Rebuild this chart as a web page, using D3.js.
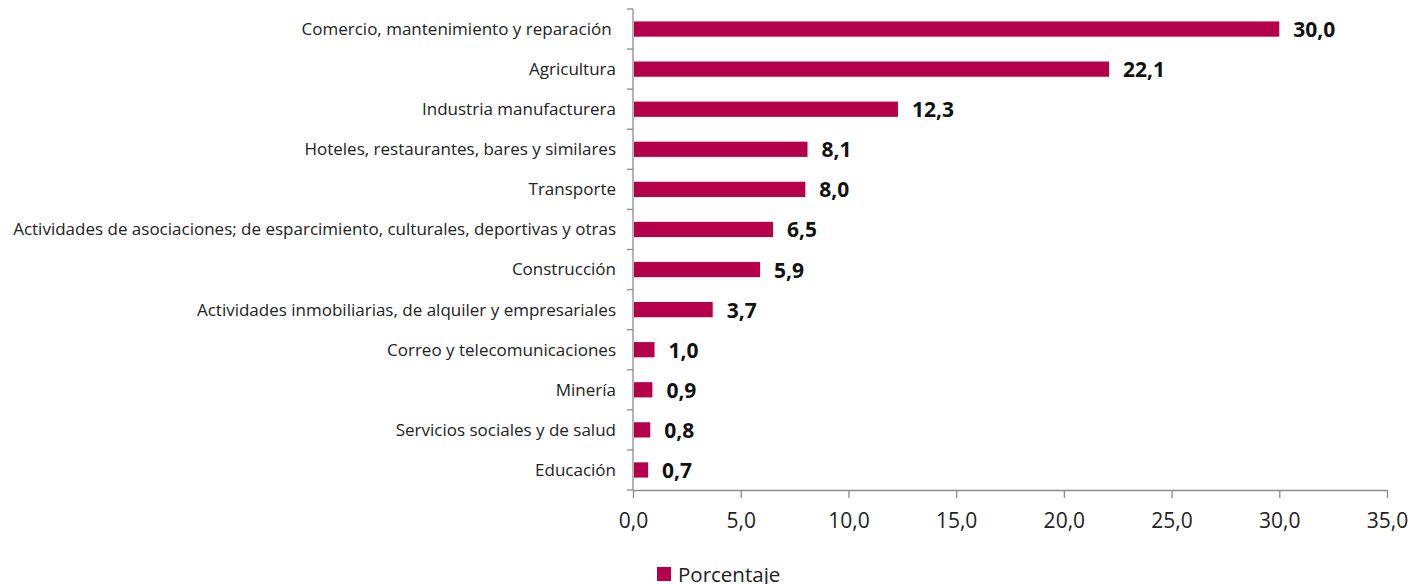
<!DOCTYPE html>
<html><head><meta charset="utf-8">
<script src="https://cdn.jsdelivr.net/npm/d3@7"></script>
<style>body{margin:0;background:#fff}svg{display:block}</style>
</head><body>
<svg id="c" width="1413" height="584"></svg>
<script>
const categories = ["Comercio, mantenimiento y reparación ","Agricultura","Industria manufacturera","Hoteles, restaurantes, bares y similares","Transporte","Actividades de asociaciones; de esparcimiento, culturales, deportivas y otras","Construcción","Actividades inmobiliarias, de alquiler y empresariales","Correo y telecomunicaciones","Minería","Servicios sociales y de salud","Educación"];
const values = [30.0,22.1,12.3,8.1,8.0,6.5,5.9,3.7,1.0,0.9,0.8,0.7];
const xTicks = [0,5,10,15,20,25,30,35];
const seriesName = "Porcentaje";

const svg = d3.select("#c");
const color = "#B5004B";
const font = "'Open Sans', sans-serif";
const fmt = v => v.toFixed(1).replace(".", ",");
const x = d3.scaleLinear().domain([0,35]).range([633,1387]);
const y = d3.scaleBand().domain(categories).range([9,490]).paddingInner(0.62).paddingOuter(0.31);

// axes
const xAxis = d3.axisBottom(x).tickValues(xTicks).tickFormat(fmt).tickSize(8).tickSizeOuter(0);
const gx = svg.append("g").attr("transform","translate(0,490)").call(xAxis);
gx.select(".domain").attr("stroke","#8c8c8c").attr("stroke-width",1.3);
gx.selectAll(".tick line").attr("stroke","#8c8c8c").attr("stroke-width",1.3);
gx.selectAll(".tick text").attr("font-family",font).attr("font-size",21).attr("fill","#222").attr("dy","1.3em");

const gy = svg.append("g").attr("transform","translate(633,0)");
gy.append("line").attr("y1",9).attr("y2",490).attr("stroke","#8c8c8c").attr("stroke-width",1.3);
const bounds = d3.range(categories.length+1).map(i => 9 + i*(481/categories.length));
gy.selectAll("line.t").data(bounds).join("line").attr("class","t")
  .attr("x1",-6).attr("x2",0).attr("y1",d=>d).attr("y2",d=>d).attr("stroke","#8c8c8c").attr("stroke-width",1.3);
gy.selectAll("text").data(categories).join("text")
  .attr("x",-17).attr("y",d=>y(d)+y.bandwidth()/2).attr("dy","0.35em")
  .attr("text-anchor","end").attr("font-family",font).attr("font-size",17).attr("fill","#222")
  .style("white-space","pre").text(d=>d);

// bars
svg.append("g").selectAll("rect").data(values).join("rect")
  .attr("x",x(0)+1).attr("y",(d,i)=>y(categories[i]))
  .attr("width",d=>x(d)-x(0)-1).attr("height",y.bandwidth()).attr("fill",color);

svg.append("g").selectAll("text").data(values).join("text")
  .attr("x",d=>x(d)+14).attr("y",(d,i)=>y(categories[i])+y.bandwidth()/2).attr("dy","0.38em")
  .attr("font-family",font).attr("font-size",21).attr("font-weight","bold").attr("fill","#111")
  .text(fmt);

// legend
const lg = svg.append("g").attr("transform","translate(657,567)");
lg.append("rect").attr("width",14).attr("height",14).attr("fill",color);
lg.append("text").attr("x",21).attr("y",7).attr("dy","0.38em").attr("font-family",font).attr("font-size",20.5).attr("fill","#222").text(seriesName);
</script>
</body></html>
